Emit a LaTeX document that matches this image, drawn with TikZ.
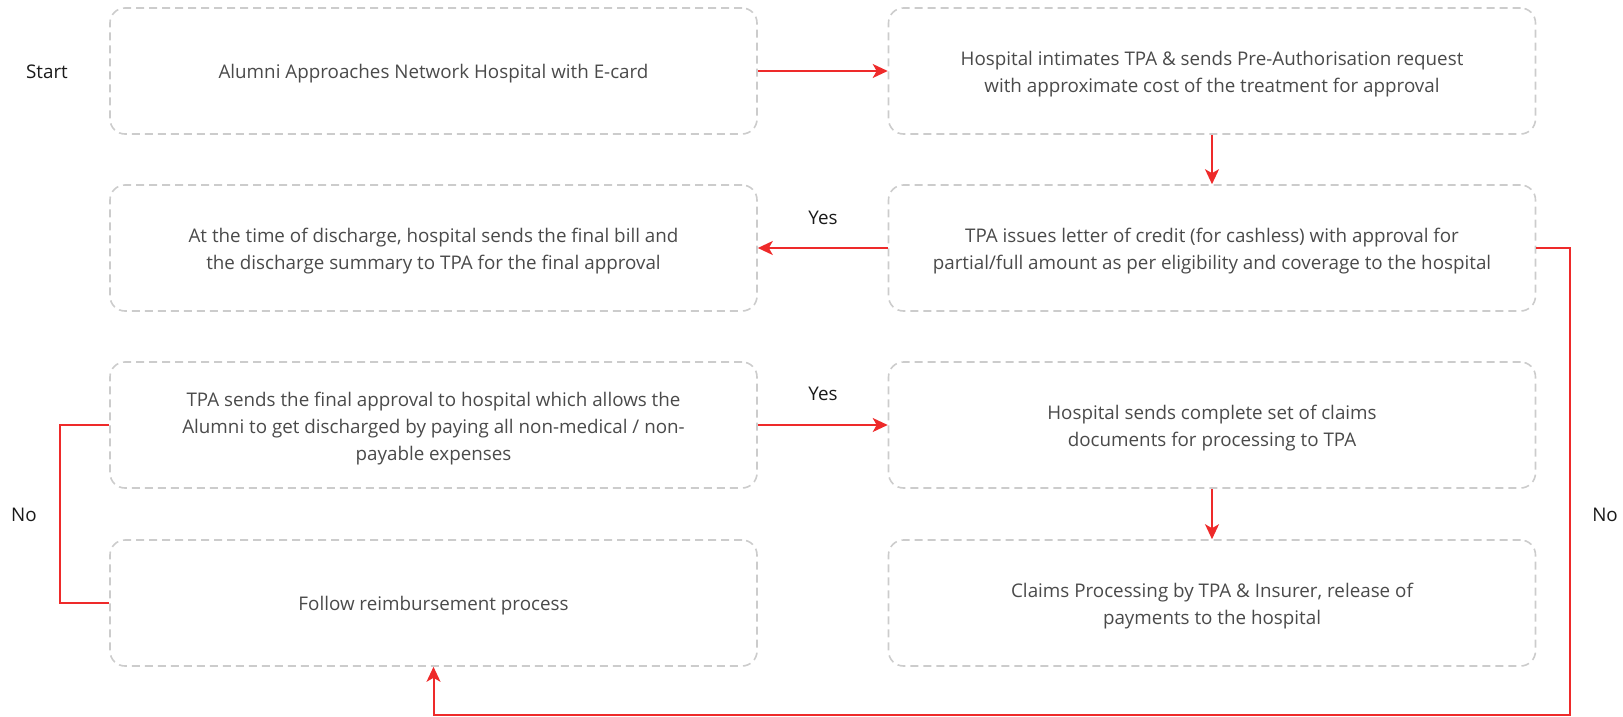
\documentclass[tikz,border=0pt]{standalone}
\usepackage{fontspec}
\setmainfont{Open Sans}
\usetikzlibrary{arrows.meta}
\definecolor{boxgray}{HTML}{CCCCCC}
\definecolor{flowred}{HTML}{EE2A2A}
\definecolor{txtgray}{HTML}{4A4A4A}
\definecolor{lblblack}{HTML}{1A1A1A}
\tikzset{
  stepbox/.style={draw=boxgray, line width=1.6pt, dash pattern=on 8pt off 5pt,
    rounded corners=15pt, minimum width=647pt, minimum height=126pt, inner sep=0pt},
  steptext/.style={align=center, text=txtgray, font=\fontsize{18.8}{27}\selectfont, inner sep=0pt},
  flow/.style={draw=flowred, line width=2pt, -{Stealth[length=15pt,width=14pt,inset=4pt]}},
  flowplain/.style={draw=flowred, line width=2pt},
  lbl/.style={text=lblblack, font=\fontsize{18.8}{22}\selectfont, inner sep=0pt}
}
\begin{document}
\begin{tikzpicture}[x=1pt,y=-1pt]
\useasboundingbox (0,0) rectangle (1623,717);
\node[stepbox] (L1) at (433.5,71) {};
\node[stepbox] (R1) at (1212,71) {};
\node[stepbox] (L2) at (433.5,248) {};
\node[stepbox] (R2) at (1212,248) {};
\node[stepbox] (L3) at (433.5,425) {};
\node[stepbox] (R3) at (1212,425) {};
\node[stepbox] (L4) at (433.5,603) {};
\node[stepbox] (R4) at (1212,603) {};

\node[steptext] (L1t) at ([yshift=-3pt]L1.center) {Alumni Approaches Network Hospital with E-card};
\node[steptext] (R1t) at ([yshift=-3.5pt]R1.center) {Hospital intimates TPA \& sends Pre-Authorisation request\\with approximate cost of the treatment for approval};
\node[steptext] (L2t) at ([yshift=-3.5pt]L2.center) {At the time of discharge, hospital sends the final bill and\\the discharge summary to TPA for the final approval};
\node[steptext] (R2t) at ([yshift=-3.5pt]R2.center) {TPA issues letter of credit (for cashless) with approval for\\partial/full amount as per eligibility and coverage to the hospital};
\node[steptext] (L3t) at ([yshift=-3.5pt]L3.center) {TPA sends the final approval to hospital which allows the\\Alumni to get discharged by paying all non-medical / non-\\payable expenses};
\node[steptext] (R3t) at ([yshift=-3.5pt]R3.center) {Hospital sends complete set of claims\\documents for processing to TPA};
\node[steptext] (L4t) at ([yshift=-3pt]L4.center) {Follow reimbursement process};
\node[steptext] (R4t) at ([yshift=-3.5pt]R4.center) {Claims Processing by TPA \& Insurer, release of\\payments to the hospital};

\node[lbl] (start) at (47,72) {Start};
\node[lbl] (yes1) at (823,218) {Yes};
\node[lbl] (yes2) at (823,394) {Yes};
\node[lbl] (noL) at (24,515) {No};
\node[lbl] (noR) at (1605,515) {No};

\draw[flow] (L1.east) -- (R1.west);
\draw[flow] (R1.south) -- (R2.north);
\draw[flow] (R2.west) -- (L2.east);
\draw[flow] (L3.east) -- (R3.west);
\draw[flow] (R3.south) -- (R4.north);

\coordinate (cR) at (1570,715);
\draw[flow] (R2.east) -| (cR) -| (L4.south);
\coordinate (cL) at (60,425);
\draw[flowplain] (L3.west) -- (cL) |- (L4.west);
\end{tikzpicture}
\end{document}
